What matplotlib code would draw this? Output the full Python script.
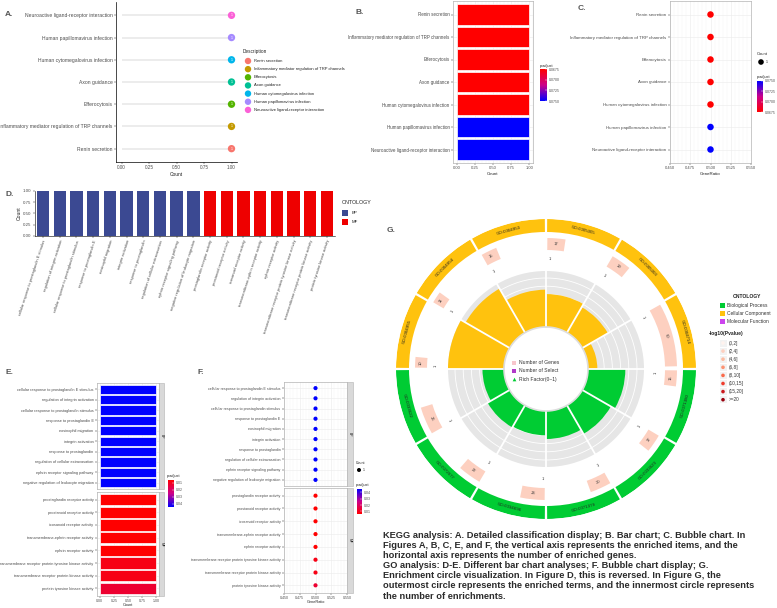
import numpy as np
import matplotlib
matplotlib.use("Agg")
import matplotlib.pyplot as plt
from matplotlib.colors import LinearSegmentedColormap, Normalize
from matplotlib.cm import ScalarMappable
from matplotlib.patches import Rectangle, Circle

plt.rcParams['font.family'] = ['Liberation Sans', 'DejaVu Sans']

# ---------------- data ----------------
kegg_terms = ["Renin secretion",
              "Inflammatory mediator regulation of TRP channels",
              "Efferocytosis",
              "Axon guidance",
              "Human cytomegalovirus infection",
              "Human papillomavirus infection",
              "Neuroactive ligand-receptor interaction"]
kegg_count = [1, 1, 1, 1, 1, 1, 1]
kegg_ratio = [0.5, 0.5, 0.5, 0.5, 0.5, 0.5, 0.5]
kegg_padj = [0.0675, 0.0675, 0.0675, 0.0675, 0.0675, 0.0750, 0.0750]
kegg_hue = ["#F8766D", "#C49A00", "#53B400", "#00C094", "#00B6EB", "#A58AFF", "#FB61D7"]

bp_terms = ["cellular response to prostaglandin E stimulus",
            "regulation of integrin activation",
            "cellular response to prostaglandin stimulus",
            "response to prostaglandin E",
            "eosinophil migration",
            "integrin activation",
            "response to prostaglandin",
            "regulation of cellular extravasation",
            "ephrin receptor signaling pathway",
            "negative regulation of leukocyte migration"]
mf_terms = ["prostaglandin receptor activity",
            "prostanoid receptor activity",
            "icosanoid receptor activity",
            "transmembrane-ephrin receptor activity",
            "ephrin receptor activity",
            "transmembrane receptor protein tyrosine kinase activity",
            "transmembrane receptor protein kinase activity",
            "protein tyrosine kinase activity"]
bp_count = [1] * 10
mf_count = [1] * 8
bp_ratio = [0.5] * 10
mf_ratio = [0.5] * 8
bp_padj = [0.045] * 10
mf_padj = [0.006, 0.006, 0.006, 0.006, 0.006, 0.009, 0.009, 0.013]

go_ids = ["GO:0005005", "GO:0005003", "GO:0004714", "GO:0071380", "GO:0033623",
          "GO:0071379", "GO:0034696", "GO:0072677", "GO:0033622", "GO:0004955",
          "GO:0004954", "GO:0004953"]
go_class = ["CC", "CC", "CC", "BP", "BP", "BP", "BP", "BP", "BP", "CC", "CC", "CC"]
go_genes = [17, 19, 60, 15, 17, 20, 23, 22, 26, 10, 11, 15]
go_select = [1] * 12
go_plevel = [1] * 12

logp_labels = ["(0,2]", "(2,4]", "(4,6]", "(6,8]", "(8,10]", "(10,15]", "(15,20]", ">=20"]
logp_colors = ["#FFF3EE", "#FDD0C0", "#FCBBA1", "#FC9272", "#FB6A4A", "#EF3B2C", "#CB181D", "#99000D"]
class_colors = {"BP": "#00CC33", "CC": "#FFC20E", "MF": "#CC44EE"}
class_names = ["Biological Process", "Cellular Component", "Molecular Function"]

caption = ["KEGG analysis: A. Detailed classification display; B. Bar chart; C. Bubble chart. In",
           "Figures A, B, C, E, and F, the vertical axis represents the enriched items, and the",
           "horizontal axis represents the number of enriched genes.",
           "GO analysis: D-E. Different bar chart analyses; F. Bubble chart display; G.",
           "Enrichment circle visualization. In Figure D, this is reversed. In Figure G, the",
           "outermost circle represents the enriched terms, and the innermost circle represents",
           "the number of enrichments."]

# ---------------- helpers ----------------
W, H = 777, 608
fig = plt.figure(figsize=(W / 100, H / 100), dpi=100)
cmap = LinearSegmentedColormap.from_list("rb", ["#FF0000", "#CC0089", "#0000FF"])
TXT = "#4D4D4D"


def px_axes(l, t, r, b, **kw):
    return fig.add_axes([l / W, 1 - b / H, (r - l) / W, (b - t) / H], **kw)


def ticks(ax, fs=3.0):
    ax.tick_params(labelsize=fs, length=1.5, width=0.35, colors="#333333",
                   labelcolor=TXT, pad=1)


def border(ax, color="#B3B3B3", lw=0.5):
    for s in ax.spines.values():
        s.set_color(color)
        s.set_linewidth(lw)


def bw_grid(ax):
    ax.set_axisbelow(True)
    ax.grid(True, which="major", color="#EBEBEB", lw=0.4)
    ax.minorticks_on()
    ax.grid(True, which="minor", axis="x", color="#F2F2F2", lw=0.25)
    ax.tick_params(which="minor", length=0)


def pbar(l, t, r, b, norm, ticks_v, fmt, reverse):
    cax = px_axes(l, t, r, b)
    cb = fig.colorbar(ScalarMappable(norm=norm, cmap=cmap), cax=cax)
    cb.outline.set_visible(False)
    cb.set_ticks(ticks_v)
    cb.set_ticklabels([fmt % v for v in ticks_v])
    cax.tick_params(labelsize=2.5, length=1.2, width=0.3, color="white",
                    direction="in", pad=1, labelcolor=TXT)
    if reverse:
        cax.invert_yaxis()
    return cax


norm_k = Normalize(0.0675, 0.0750)
norm_g = Normalize(0.006, 0.045)

# ---------------- A: lollipop ----------------
axA = px_axes(116, 2, 237, 162)
yA = np.arange(len(kegg_terms))
axA.hlines(yA, 0, kegg_count, color="#EBEBEB", lw=1.3, zorder=1)
axA.scatter(kegg_count, yA, s=28, c=kegg_hue, linewidths=0, zorder=2)
for x, y in zip(kegg_count, yA):
    axA.text(x, y, str(x), color="white", fontsize=2.6, ha="center", va="center", zorder=3)
axA.set_xlim(-0.05, 1.05)
axA.set_ylim(-0.6, len(kegg_terms) - 0.4)
axA.set_yticks(yA)
axA.set_yticklabels(kegg_terms)
axA.set_xticks([0, 0.25, 0.5, 0.75, 1.0])
axA.set_xticklabels(["0.00", "0.25", "0.50", "0.75", "1.00"])
axA.set_xlabel("Count", fontsize=3.5, labelpad=1, color="#222222")
axA.spines[["top", "right"]].set_visible(False)
for s in ["left", "bottom"]:
    axA.spines[s].set_linewidth(0.5)
ticks(axA, 3.6)
axA.tick_params(axis="x", labelsize=3.3)

# ---------------- B: bar ----------------
axB = px_axes(453, 1, 533, 163)
yB = np.arange(len(kegg_terms))
bw_grid(axB)
axB.barh(yB, kegg_count, height=0.9, color=cmap(norm_k(kegg_padj)),
         edgecolor="white", lw=0.5)
axB.set_xlim(-0.05, 1.05)
axB.set_ylim(len(kegg_terms) - 0.4, -0.6)
axB.set_yticks(yB)
axB.set_yticklabels(kegg_terms)
axB.set_xticks([0, 0.25, 0.5, 0.75, 1.0])
axB.set_xticklabels(["0.00", "0.25", "0.50", "0.75", "1.00"])
axB.set_xlabel("Count", fontsize=3.2, labelpad=1, color="#222222")
border(axB)
ticks(axB, 3.25)
axB.tick_params(axis="x", labelsize=3.0)
pbar(540, 69, 547, 101, norm_k, [0.0675, 0.0700, 0.0725, 0.0750], "%.4f", True)

# ---------------- C: bubble ----------------
axC = px_axes(670, 1, 751, 163)
bw_grid(axC)
axC.scatter(kegg_ratio, yB, s=22, c=cmap(norm_k(kegg_padj)), linewidths=0, zorder=3)
axC.set_xlim(0.45, 0.55)
axC.set_ylim(len(kegg_terms) - 0.4, -0.6)
axC.set_yticks(yB)
axC.set_yticklabels(kegg_terms)
axC.set_xticks([0.45, 0.475, 0.5, 0.525, 0.55])
axC.set_xticklabels(["0.450", "0.475", "0.500", "0.525", "0.550"])
axC.set_xlabel("GeneRatio", fontsize=3.2, labelpad=1, color="#222222")
border(axC)
ticks(axC, 3.2)
axC.tick_params(axis="x", labelsize=3.0)
pbar(757, 81, 763, 112, norm_k, [0.0675, 0.0700, 0.0725, 0.0750], "%.4f", False)

# ---------------- D: GO bar ----------------
axD = px_axes(35, 191, 335, 236)
go_terms = bp_terms + mf_terms
xD = np.arange(1, len(go_terms) + 1)
d_colors = ["#3B4992"] * len(bp_terms) + ["#EE0000"] * len(mf_terms)
axD.bar(xD, bp_count + mf_count, width=0.74, color=d_colors)
axD.set_xlim(0.52, len(go_terms) + 0.48)
axD.set_ylim(0, 1)
axD.set_yticks([0, 0.25, 0.5, 0.75, 1.0])
axD.set_yticklabels(["0.00", "0.25", "0.50", "0.75", "1.00"])
axD.set_xticks(xD)
axD.set_xticklabels(go_terms, rotation=72, ha="right", va="top", rotation_mode="anchor")
axD.set_ylabel("Count", fontsize=3.6, labelpad=1, color="#222222")
axD.spines[["top", "right"]].set_visible(False)
for s in ["left", "bottom"]:
    axD.spines[s].set_linewidth(0.4)
ticks(axD, 3.2)
axD.tick_params(axis="x", labelsize=2.9)


# ---------------- E / F: faceted ----------------
def facet(l, r, t1, b1, t2, b2, kind, fs):
    axes = []
    for (t, b, terms, cnt, ratio, padj) in [(t1, b1, bp_terms, bp_count, bp_ratio, bp_padj),
                                             (t2, b2, mf_terms, mf_count, mf_ratio, mf_padj)]:
        ax = px_axes(l, t, r, b)
        y = np.arange(len(terms))
        bw_grid(ax)
        if kind == "bar":
            ax.barh(y, cnt, height=0.9, color=cmap(norm_g(padj)), edgecolor="white", lw=0.5)
            ax.set_xlim(-0.05, 1.05)
        else:
            ax.scatter(ratio, y, s=9, c=cmap(norm_g(padj)), linewidths=0, zorder=3)
            ax.set_xlim(0.45, 0.55)
        ax.set_ylim(len(terms) - 0.4, -0.6)
        ax.set_yticks(y)
        ax.set_yticklabels(terms)
        border(ax)
        ticks(ax, fs)
        axes.append(ax)
    axes[0].set_xticklabels([])
    axes[0].tick_params(axis="x", length=0)
    if kind == "bar":
        axes[1].set_xticks([0, 0.25, 0.5, 0.75, 1.0])
        axes[1].set_xticklabels(["0.00", "0.25", "0.50", "0.75", "1.00"])
        axes[1].set_xlabel("Count", fontsize=2.8, labelpad=0.5, color="#222222")
    else:
        axes[0].set_xticks([0.45, 0.475, 0.5, 0.525, 0.55])
        axes[1].set_xticks([0.45, 0.475, 0.5, 0.525, 0.55])
        axes[1].set_xticklabels(["0.450", "0.475", "0.500", "0.525", "0.550"])
        axes[1].set_xlabel("GeneRatio", fontsize=2.8, labelpad=0.5, color="#222222")
    axes[1].tick_params(axis="x", labelsize=2.6, pad=0.5)
    return axes


facet(97, 159, 383, 489, 492, 596, "bar", 2.75)
pbar(168, 480, 174, 507, norm_g, [0.01, 0.02, 0.03, 0.04], "%.2f", True)
facet(284, 347, 382, 486, 488, 593, "dot", 2.6)
pbar(357, 489, 362, 514, norm_g, [0.01, 0.02, 0.03, 0.04], "%.2f", False)

# ---------------- G: circle ----------------
gax = px_axes(396, 219, 696, 519, projection="polar")
gax.set_theta_zero_location("N")
gax.set_theta_direction(-1)
gax.set_ylim(0, 150)
gax.axis("off")
n = len(go_ids)
step = 360.0 / n
deg_per_gene = 0.47
rich = np.array(go_select) / np.array(go_genes)
for i in range(n):
    start = i * step
    mid = np.deg2rad(start + step / 2)
    col = class_colors[go_class[i]]
    # outer ring
    gax.bar(mid, 13, width=np.deg2rad(step - 0.9), bottom=137, color=col, lw=0)
    rot = ((-(start + step / 2) + 90) % 180) - 90
    gax.text(mid, 143.5, go_ids[i], fontsize=3.2, ha="center", va="center",
             rotation=rot, rotation_mode="anchor", color="#222222")
    # number of genes
    wdeg = go_genes[i] * deg_per_gene
    c = np.deg2rad(start + 0.6 + wdeg / 2)
    gax.bar(c, 12, width=np.deg2rad(wdeg), bottom=119, color=logp_colors[go_plevel[i]], lw=0)
    rot2 = ((-(start + 0.6 + wdeg / 2) + 90) % 180) - 90
    gax.text(c, 125, str(go_genes[i]), fontsize=3.0, ha="center", va="center",
             rotation=rot2, rotation_mode="anchor", color="#333333")
    # number of select
    a = start + 1.8
    rot3 = ((-a + 90) % 180) - 90
    gax.text(np.deg2rad(a), 110, str(go_select[i]), fontsize=2.8, ha="center", va="center",
             rotation=rot3, rotation_mode="anchor", color="#222222")
    # rich factor track
    gax.bar(mid, 56, width=np.deg2rad(step), bottom=42, color="#E6E6E6", lw=0)
    gax.bar(mid, 56 * rich[i] / 0.1, width=np.deg2rad(step), bottom=42, color=col, lw=0, zorder=3)
th = np.linspace(0, 2 * np.pi, 400)
for rr in np.linspace(50, 91, 6):
    gax.plot(th, np.full_like(th, rr), color="white", lw=0.6, zorder=2)
for i in range(n):
    gax.plot([np.deg2rad(i * step)] * 2, [42, 98], color="white", lw=1.3, zorder=4)
gax.plot(th, np.full_like(th, 42), color="#DDDDDD", lw=1.2, zorder=5)

# ---------------- overlay: labels, legends, caption ----------------
ov = fig.add_axes([0, 0, 1, 1], zorder=10)
ov.set_xlim(0, W)
ov.set_ylim(H, 0)
ov.axis("off")

for lab, x, y in [("A.", 5, 15), ("B.", 355, 12), ("C.", 578, 8), ("D.", 5, 195),
                  ("E.", 5, 372), ("F.", 197, 372), ("G.", 387, 231)]:
    ov.text(x, y, lab, fontsize=6, weight="bold", color="#555555", ha="left", va="center")

# A legend
ov.text(243, 52, "Description", fontsize=3.4, color="#222222", va="center")
for i, (t, c) in enumerate(zip(kegg_terms, kegg_hue)):
    y = 61 + 8.15 * i
    ov.add_patch(Circle((248, y), 3.2, color=c, lw=0))
    ov.text(254, y, t, fontsize=3.0, color="#222222", va="center")

# p.adjust titles
for x, y in [(540, 66), (757, 77), (167, 476), (356, 485)]:
    ov.text(x, y, "p.adjust", fontsize=2.8, color="#222222", va="center")
# count legends
ov.text(757, 54, "Count", fontsize=3.0, color="#222222", va="center")
ov.add_patch(Circle((761, 62), 2.8, color="black", lw=0))
ov.text(766, 62, "1", fontsize=2.6, color="#222222", va="center")
ov.text(356, 463, "Count", fontsize=2.6, color="#222222", va="center")
ov.add_patch(Circle((359, 470), 2.0, color="black", lw=0))
ov.text(363, 470, "1", fontsize=2.4, color="#222222", va="center")

# facet strips
for (l, r, t, b, s) in [(159, 164, 383, 489, "BP"), (159, 164, 492, 596, "MF"),
                        (347, 353, 382, 486, "BP"), (347, 353, 488, 593, "MF")]:
    ov.add_patch(Rectangle((l, t), r - l, b - t, facecolor="#D9D9D9", edgecolor="#B3B3B3", lw=0.4))
    ov.text((l + r) / 2, (t + b) / 2, s, fontsize=2.4, rotation=-90, ha="center", va="center",
            color="#1A1A1A")

# D legend
ov.text(342, 203, "ONTOLOGY", fontsize=3.8, color="#222222", va="center")
for i, (s, c) in enumerate([("BP", "#3B4992"), ("MF", "#EE0000")]):
    y = 213 + 9 * i
    ov.add_patch(Rectangle((342, y - 3), 6, 6, color=c, lw=0))
    ov.text(352, y, s, fontsize=3.2, color="#222222", va="center")

# G centre legend
ov.add_patch(Rectangle((511.5, 360.5), 4.5, 4.5, color="#F7C6CC", lw=0))
ov.add_patch(Rectangle((511.5, 368.5), 4.5, 4.5, color="#B03AC8", lw=0))
ov.scatter([513.8], [379], marker="^", s=7, color="#00CC33", lw=0)
for j, s in enumerate(["Number of Genes", "Number of Select", "Rich Factor(0~1)"]):
    ov.text(519, 363 + 8 * j, s, fontsize=3.6, color="#333333", va="center")

# G right legend
ov.text(747, 296, "ONTOLOGY", fontsize=3.6, weight="bold", color="#222222", ha="center", va="center")
for j, (s, k) in enumerate(zip(class_names, ["BP", "CC", "MF"])):
    y = 305 + 8.2 * j
    ov.add_patch(Rectangle((719.5, y - 2.5), 5, 5, color=class_colors[k], lw=0))
    ov.text(727, y, s, fontsize=3.5, color="#333333", va="center")
ov.text(709, 334, "-log10(Pvalue)", fontsize=3.6, weight="bold", color="#222222", va="center")
for j, (s, c) in enumerate(zip(logp_labels, logp_colors)):
    y = 343 + 8.1 * j
    ov.add_patch(Rectangle((719.5, y - 3.5), 7, 7, color="#F2F2F2", lw=0))
    ov.add_patch(Circle((723, y), 1.8, color=c, lw=0))
    ov.text(729, y, s, fontsize=3.4, color="#333333", va="center")

# caption
for i, line in enumerate(caption):
    ov.text(383, 535 + 10.2 * i, line, fontsize=6.7, weight="bold", color="#2B2B2B",
            ha="left", va="center")

fig.savefig("out.png", dpi=100)
